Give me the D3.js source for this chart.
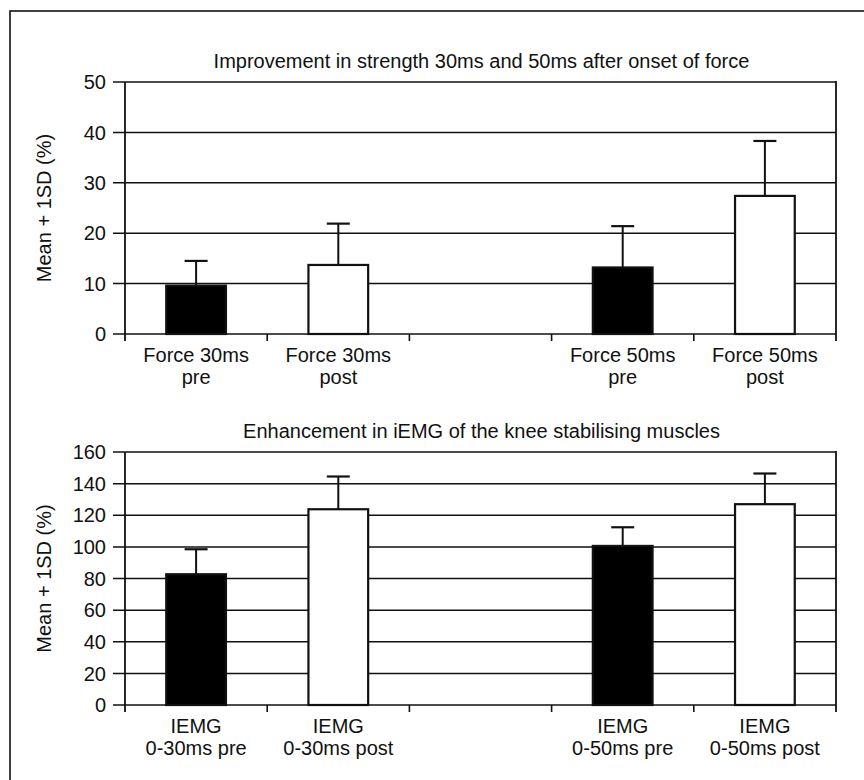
<!DOCTYPE html>
<html>
<head>
<meta charset="utf-8">
<script src="https://cdn.jsdelivr.net/npm/d3@7"></script>
<style>
  html, body { margin: 0; padding: 0; background: #fff; }
  svg { display: block; }
  text { font-family: "Liberation Sans", Arial, sans-serif; fill: #111; }
</style>
</head>
<body>
<svg id="chart" width="864" height="780"></svg>
<script>
// ---- Data ----
const forceCategories = [["Force 30ms", "pre"], ["Force 30ms", "post"], null, ["Force 50ms", "pre"], ["Force 50ms", "post"]];
const forceMeans = [9.6, 13.7, null, 13.2, 27.4];
const forceSD = [4.9, 8.2, null, 8.2, 10.9];
const forceTicks = [0, 10, 20, 30, 40, 50];
const forceTitle = "Improvement in strength 30ms and 50ms after onset of force";

const emgCategories = [["IEMG", "0-30ms pre"], ["IEMG", "0-30ms post"], null, ["IEMG", "0-50ms pre"], ["IEMG", "0-50ms post"]];
const emgMeans = [82.7, 123.8, null, 100.6, 127.0];
const emgSD = [15.8, 20.7, null, 11.8, 19.4];
const emgTicks = [0, 20, 40, 60, 80, 100, 120, 140, 160];
const emgTitle = "Enhancement in iEMG of the knee stabilising muscles";

const barFills = ["#000", "#fff", null, "#000", "#fff"];
const yLabel = "Mean + 1SD (%)";

const svg = d3.select("#chart");

// outer frame (extends beyond the photographed area on right/bottom)
svg.append("rect")
  .attr("x", 10).attr("y", 11).attr("width", 900).attr("height", 820)
  .attr("fill", "none").attr("stroke", "#111").attr("stroke-width", 1.6);

function panel(cfg) {
  const { cats, means, sds, ticks, title, x0, x1, yTop, yZero, titleY } = cfg;
  const g = svg.append("g");
  const idx = cats.map((d, i) => i);
  const x = d3.scaleBand().domain(idx).range([x0, x1]).padding(0);
  const y = d3.scaleLinear().domain([0, d3.max(ticks)]).range([yZero, yTop]);
  const bw = x.bandwidth() * 0.42;

  // title
  g.append("text")
    .attr("x", (x0 + x1) / 2 + 1).attr("y", titleY)
    .attr("text-anchor", "middle")
    .style("font-size", "20px")
    .text(title);

  // gridlines + y ticks
  g.selectAll("line.grid").data(ticks).join("line")
    .attr("x1", x0 - 12).attr("x2", x1)
    .attr("y1", d => y(d)).attr("y2", d => y(d))
    .attr("stroke", "#111").attr("stroke-width", 1.5);

  g.selectAll("text.ytick").data(ticks).join("text")
    .attr("class", "ytick")
    .attr("x", x0 - 19).attr("y", d => y(d))
    .attr("dy", "0.36em")
    .attr("text-anchor", "end")
    .style("font-size", "20px")
    .text(d => d);

  // y axis line
  g.append("line")
    .attr("x1", x0).attr("x2", x0).attr("y1", yTop).attr("y2", yZero + 7)
    .attr("stroke", "#111").attr("stroke-width", 1.8);
  // right frame line
  g.append("line")
    .attr("x1", x1).attr("x2", x1).attr("y1", yTop - 1).attr("y2", yZero + 7)
    .attr("stroke", "#111").attr("stroke-width", 1.8);

  // x boundary ticks
  const bounds = idx.slice(1).map(i => x(i));
  g.selectAll("line.xtick").data(bounds).join("line")
    .attr("x1", d => d).attr("x2", d => d)
    .attr("y1", yZero).attr("y2", yZero + 7)
    .attr("stroke", "#111").attr("stroke-width", 1.6);

  const data = idx.filter(i => means[i] != null);

  // error bars
  data.forEach(i => {
    const cx = x(i) + x.bandwidth() / 2;
    g.append("line")
      .attr("x1", cx).attr("x2", cx)
      .attr("y1", y(means[i])).attr("y2", y(means[i] + sds[i]))
      .attr("stroke", "#111").attr("stroke-width", 2);
    g.append("line")
      .attr("x1", cx - 11.5).attr("x2", cx + 11.5)
      .attr("y1", y(means[i] + sds[i])).attr("y2", y(means[i] + sds[i]))
      .attr("stroke", "#111").attr("stroke-width", 2.2);
  });

  // bars
  g.selectAll("rect.bar").data(data).join("rect")
    .attr("x", i => x(i) + (x.bandwidth() - bw) / 2)
    .attr("width", bw)
    .attr("y", i => y(means[i]))
    .attr("height", i => yZero - y(means[i]))
    .attr("fill", i => barFills[i])
    .attr("stroke", "#111").attr("stroke-width", 2.2);

  // category labels
  data.forEach(i => {
    const cx = x(i) + x.bandwidth() / 2;
    const t = g.append("text")
      .attr("text-anchor", "middle")
      .style("font-size", "20px");
    cats[i].forEach((line, k) => {
      t.append("tspan").attr("x", cx).attr("y", yZero + 28 + k * 22).text(line);
    });
  });

  // y label
  g.append("text")
    .attr("transform", `translate(51, ${(yTop + yZero) / 2}) rotate(-90)`)
    .attr("text-anchor", "middle")
    .style("font-size", "20px")
    .text(yLabel);
}

panel({ cats: forceCategories, means: forceMeans, sds: forceSD, ticks: forceTicks, title: forceTitle,
        x0: 125, x1: 836, yTop: 82, yZero: 334, titleY: 68 });
panel({ cats: emgCategories, means: emgMeans, sds: emgSD, ticks: emgTicks, title: emgTitle,
        x0: 125, x1: 836, yTop: 452, yZero: 705, titleY: 438 });
</script>
</body>
</html>
